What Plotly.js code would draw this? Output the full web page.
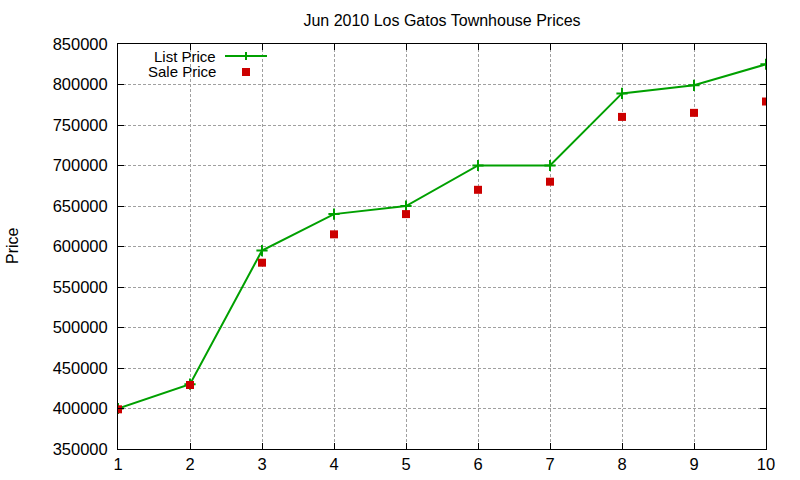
<!DOCTYPE html>
<html>
<head>
<meta charset="utf-8">
<script src="https://cdn.plot.ly/plotly-3.0.1.min.js"></script>
<style>html,body{margin:0;padding:0;background:#fff;}#chart{width:800px;height:480px;}</style>
</head>
<body>
<div id="chart"></div>
<script>
const months = [1, 2, 3, 4, 5, 6, 7, 8, 9, 10];
const listPrice = [400000, 430000, 595000, 640000, 650000, 700000, 700000, 789000, 799000, 825000];
const salePrice = [399000, 429000, 580000, 615000, 640000, 670000, 680000, 760000, 765000, 779000];
const yTicks = [350000, 400000, 450000, 500000, 550000, 600000, 650000, 700000, 750000, 800000, 850000];

const green = '#00a000';
const red = '#cc0000';
const font = 'Liberation Sans, Arial, sans-serif';

const L = 118, R = 766, T = 44, B = 449;
const px = v => (v - L) / (R - L);
const py = v => (B - v) / (B - T);

const traces = [
  {x: months, y: listPrice, type: 'scatter', mode: 'lines+markers', name: 'List Price',
   line: {color: green, width: 2},
   marker: {symbol: 'cross-thin', size: 8, line: {color: green, width: 2}, color: green}},
  {x: months, y: salePrice, type: 'scatter', mode: 'markers', name: 'Sale Price',
   marker: {symbol: 'square', size: 8, color: red}}
];

const layout = {
  width: 800, height: 480,
  margin: {l: L, r: 800 - R, t: T, b: 480 - B},
  paper_bgcolor: '#fff', plot_bgcolor: '#fff',
  showlegend: false,
  font: {family: font, size: 15, color: '#000'},
  title: {text: 'Jun 2010 Los Gatos Townhouse Prices', font: {family: font, size: 16, color: '#000'},
          x: 0.5 * (L + R) / 800, xanchor: 'center', y: 1 - 20 / 480, yanchor: 'middle'},
  xaxis: {range: [1, 10], tickvals: months, ticktext: months.map(String),
          ticks: 'inside', ticklen: 6, tickcolor: '#000', showline: true, linecolor: '#000', linewidth: 1,
          mirror: 'allticks', showgrid: true, gridcolor: '#a0a0a0', griddash: '3px,2px', gridwidth: 1,
          zeroline: false, tickfont: {size: 16.5}},
  yaxis: {range: [350000, 850000], tickvals: yTicks, ticktext: yTicks.map(String),
          ticks: 'inside', ticklen: 6, tickcolor: '#000', showline: true, linecolor: '#000', linewidth: 1,
          mirror: 'allticks', showgrid: true, gridcolor: '#a0a0a0', griddash: '3px,2px', gridwidth: 1,
          zeroline: false, tickfont: {size: 16.5}, ticklabelstandoff: 6},
  annotations: [
    {text: 'Price', xref: 'paper', yref: 'paper', x: px(12), y: py(246), textangle: -90,
     showarrow: false, xanchor: 'center', yanchor: 'middle', font: {size: 16}},
    {text: 'List Price', xref: 'paper', yref: 'paper', x: px(217), y: py(56),
     showarrow: false, xanchor: 'right', yanchor: 'middle', font: {size: 15}, borderpad: 0},
    {text: 'Sale Price', xref: 'paper', yref: 'paper', x: px(217), y: py(72),
     showarrow: false, xanchor: 'right', yanchor: 'middle', font: {size: 15}, borderpad: 0}
  ],
  shapes: [
    {type: 'line', xref: 'paper', yref: 'paper', x0: px(225), x1: px(267), y0: py(56), y1: py(56),
     line: {color: green, width: 2}},
    {type: 'line', xref: 'paper', yref: 'paper', x0: px(246), x1: px(246), y0: py(52), y1: py(60),
     line: {color: green, width: 2}},
    {type: 'rect', xref: 'paper', yref: 'paper', x0: px(242), x1: px(250), y0: py(68), y1: py(76),
     fillcolor: red, line: {width: 0}}
  ]
};

Plotly.newPlot('chart', traces, layout, {displayModeBar: false, staticPlot: true});
</script>
</body>
</html>
